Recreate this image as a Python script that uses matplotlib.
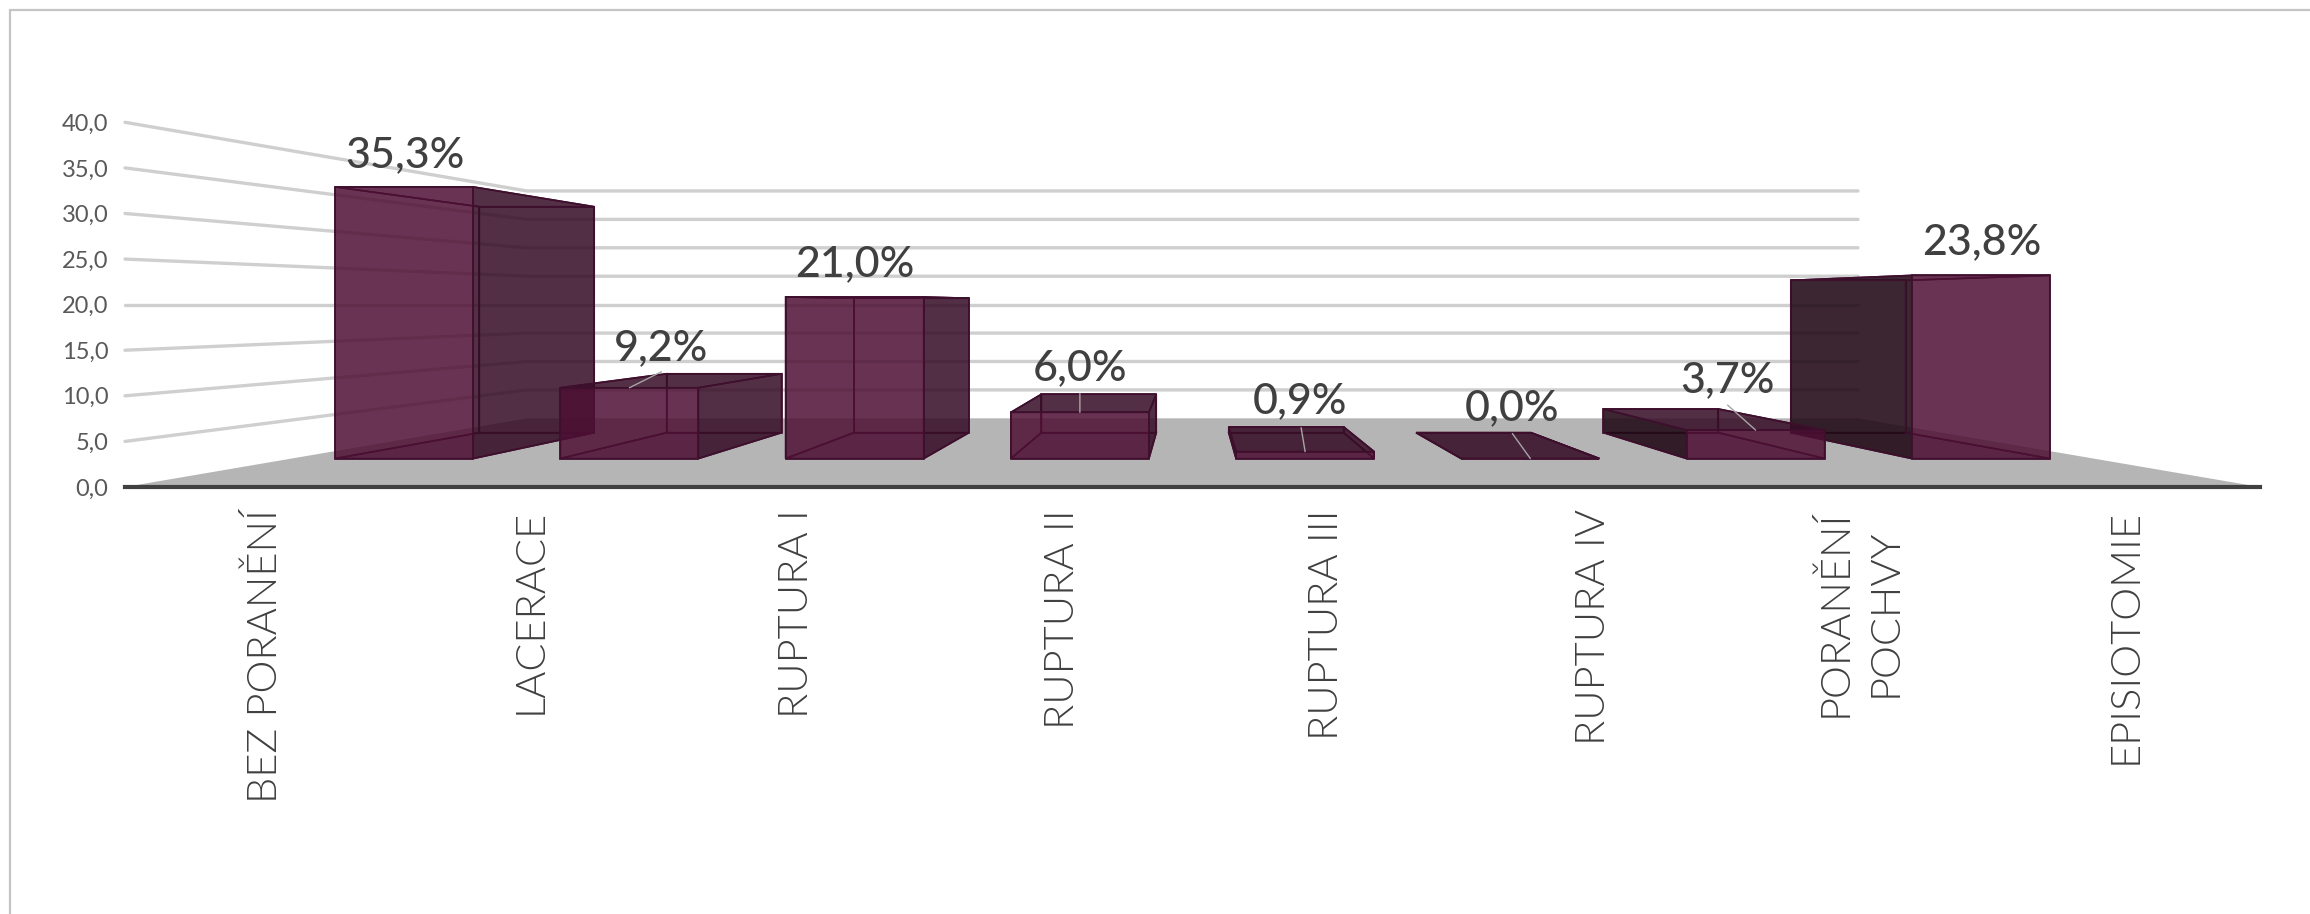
import numpy as np
import matplotlib
matplotlib.use('Agg')
import matplotlib.pyplot as plt
from matplotlib.patches import Polygon, Rectangle
from matplotlib.transforms import ScaledTranslation

categories = ['BEZ PORANĚNÍ', 'LACERACE', 'RUPTURA I', 'RUPTURA II', 'RUPTURA III',
              'RUPTURA IV', 'PORANĚNÍ\nPOCHVY', 'EPISIOTOMIE']
values = [35.3, 9.2, 21.0, 6.0, 0.9, 0.0, 3.7, 23.8]
value_labels = ['35,3%', '9,2%', '21,0%', '6,0%', '0,9%', '0,0%', '3,7%', '23,8%']
y_ticks = [0, 5, 10, 15, 20, 25, 30, 35, 40]

# label placement in pixels from the top front centre of each bar
label_dx = [1, 32, 0, 0, -5, -18, -28, 1]
label_dy = [32, 40, 33, 44, 50, 50, 50, 33]
leader_dx = [None, 32, None, 0, -4, -18, -28, None]
leader_dy = [None, 16, None, 19, 24, 25, 25, None]
tick_shift = [7, 5, 4, 3, 1, 1, 0, -1]

# perspective scale of the depth planes
S_WALL = 0.6234
S_FRONT = 0.844
S_BACK = 0.702
HALF = 0.3065

WINE = '#3f0f2e'
FRONT = (0.30, 0.06, 0.20, 0.84)
SIDE_R = (0.21, 0.05, 0.15, 0.85)
SIDE_L = (0.13, 0.04, 0.09, 0.88)
FAINT = (0.29, 0.07, 0.21, 0.03)


def project(c, v, s):
    # vanishing point sits at the middle category, value 20
    return 4 + s * (c - 4), 20 + s * (v - 20)


def bar_faces(c, v):
    p = {}
    for name, s in (('f', S_FRONT), ('b', S_BACK)):
        p[name + 'll'] = project(c - HALF, 0, s)
        p[name + 'rl'] = project(c + HALF, 0, s)
        p[name + 'lt'] = project(c - HALF, v, s)
        p[name + 'rt'] = project(c + HALF, v, s)
    back = [p['bll'], p['brl'], p['brt'], p['blt']]
    bottom = [p['fll'], p['frl'], p['brl'], p['bll']]
    left = [p['fll'], p['flt'], p['blt'], p['bll']]
    right = [p['frl'], p['frt'], p['brt'], p['brl']]
    top = [p['flt'], p['frt'], p['brt'], p['blt']]
    front = [p['fll'], p['frl'], p['frt'], p['flt']]
    return back, bottom, left, right, top, front


fig = plt.figure(figsize=(23.1, 9.14), dpi=100)
fig.add_artist(Rectangle((10 / 2310, -0.1), 1.1, 1.1 - 10 / 914, transform=fig.transFigure,
                         fill=False, ec='#c4c4c4', lw=1.6))

ax = fig.add_axes([125 / 2310, (914 - 487) / 914, 2135 / 2310, 364.7 / 914])
ax.set_xlim(0, 8)
ax.set_ylim(0, 40)
ax.patch.set_visible(False)
for side in ['top', 'right', 'left']:
    ax.spines[side].set_visible(False)
ax.spines['bottom'].set_color('#404040')
ax.spines['bottom'].set_linewidth(3)
ax.spines['bottom'].set_zorder(6)

floor = [project(0, 0, 1), project(8, 0, 1), project(8, 0, S_WALL), project(0, 0, S_WALL)]
ax.add_patch(Polygon(floor, fc='#b5b5b5', ec='none', zorder=1))

for t in y_ticks[1:]:
    xb, yb = project(0, t, S_WALL)
    xe, ye = project(8, t, S_WALL)
    ax.plot([0, xb, xe], [t, yb, ye], color='#cfcfcf', lw=2.4, zorder=1,
            solid_capstyle='round', clip_on=False)

centers = np.arange(len(values)) + 0.5
order = [0, 1, 2, 3, 7, 6, 5, 4]
z = 2
for i in order:
    back, bottom, left, right, top, front = bar_faces(centers[i], values[i])
    # only the faces turned to the camera are dark, the others stay see-through
    left_col = SIDE_L if centers[i] > 4 else FAINT
    right_col = SIDE_R if centers[i] < 4 else FAINT
    top_col = SIDE_R if values[i] < 20 else FAINT
    faces = [(back, (0.29, 0.07, 0.21, 0.06)),
             (bottom, (0.24, 0.07, 0.18, 0.12)),
             (left, left_col),
             (right, right_col),
             (top, top_col),
             (front, FRONT)]
    for pts, col in faces:
        ax.add_patch(Polygon(pts, fc=col, ec=WINE, lw=1.2, zorder=z, joinstyle='miter'))
    z += 0.01

for i in range(len(values)):
    x0, y0 = project(centers[i], values[i], S_FRONT)
    if leader_dx[i] is not None:
        ax.annotate('', xy=(x0, y0), xytext=(leader_dx[i], leader_dy[i]),
                    textcoords='offset pixels', zorder=4,
                    arrowprops=dict(arrowstyle='-', color='#a6a6a6', lw=1.0,
                                    shrinkA=0, shrinkB=0))
    ax.annotate(value_labels[i], xy=(x0, y0), xytext=(label_dx[i], label_dy[i]),
                textcoords='offset pixels', ha='center', va='center', zorder=5,
                fontsize=31, family='Lato', fontweight=500, color='#404040')

ax.set_yticks(y_ticks)
ax.set_yticklabels([f'{t:.1f}'.replace('.', ',') for t in y_ticks],
                   fontsize=17, family='Lato', color='#595959')
ax.set_xticks(centers)
ax.set_xticklabels(categories, rotation=90, va='top', ha='center', fontsize=30,
                   family='Lato', fontweight=300, color='#404040',
                   multialignment='center', linespacing=1.45)
ax.tick_params(axis='y', length=0, pad=12)
ax.tick_params(axis='x', length=0, pad=16)
for lab, dx in zip(ax.get_xticklabels(), tick_shift):
    lab.set_transform(lab.get_transform() + ScaledTranslation(dx / 100, 0, fig.dpi_scale_trans))

fig.savefig('out.png', dpi=100)
